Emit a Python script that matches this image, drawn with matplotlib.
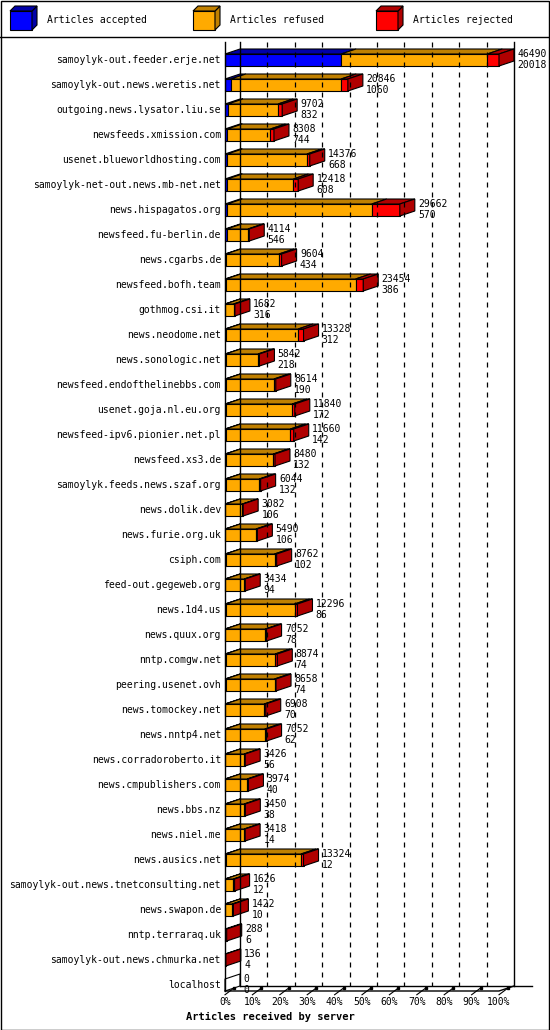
import matplotlib.pyplot as plt
from matplotlib.patches import Polygon, Rectangle
import numpy as np

servers = ["samoylyk-out.feeder.erje.net", "samoylyk-out.news.weretis.net", "outgoing.news.lysator.liu.se",
           "newsfeeds.xmission.com", "usenet.blueworldhosting.com", "samoylyk-net-out.news.mb-net.net",
           "news.hispagatos.org", "newsfeed.fu-berlin.de", "news.cgarbs.de", "newsfeed.bofh.team",
           "gothmog.csi.it", "news.neodome.net", "news.sonologic.net", "newsfeed.endofthelinebbs.com",
           "usenet.goja.nl.eu.org", "newsfeed-ipv6.pionier.net.pl", "newsfeed.xs3.de",
           "samoylyk.feeds.news.szaf.org", "news.dolik.dev", "news.furie.org.uk", "csiph.com",
           "feed-out.gegeweb.org", "news.1d4.us", "news.quux.org", "nntp.comgw.net", "peering.usenet.ovh",
           "news.tomockey.net", "news.nntp4.net", "news.corradoroberto.it", "news.cmpublishers.com",
           "news.bbs.nz", "news.niel.me", "news.ausics.net", "samoylyk-out.news.tnetconsulting.net",
           "news.swapon.de", "nntp.terraraq.uk", "samoylyk-out.news.chmurka.net", "localhost"]
totals = [46490, 20846, 9702, 8308, 14376, 12418, 29662, 4114, 9604, 23454, 1682, 13328, 5842, 8614,
          11840, 11660, 8480, 6044, 3082, 5490, 8762, 3434, 12296, 7052, 8874, 8658, 6908, 7052, 3426,
          3974, 3450, 3418, 13324, 1626, 1422, 288, 136, 0]
second = [20018, 1060, 832, 744, 668, 608, 570, 546, 434, 386, 316, 312, 218, 190, 172, 142, 132, 132,
          106, 106, 102, 94, 86, 78, 74, 74, 70, 62, 56, 40, 38, 14, 12, 12, 10, 6, 4, 0]
accepted = [19700, 1000, 500, 400, 400, 400, 400, 300, 150, 150, 50, 100, 100, 100, 100, 100, 100, 100,
            50, 50, 100, 50, 100, 50, 100, 100, 50, 50, 50, 50, 50, 50, 100, 30, 30, 0, 0, 0]
rejected = [1990, 1146, 702, 608, 476, 818, 4762, 214, 454, 1304, 232, 928, 242, 314, 440, 560, 280, 244,
            132, 240, 362, 184, 496, 202, 374, 258, 258, 302, 176, 224, 200, 168, 424, 196, 192, 288, 136, 0]
refused = [t - a - r for t, a, r in zip(totals, accepted, rejected)]

fig = plt.figure(figsize=(5.5, 10.3), dpi=100)
W, H = 550, 1030
mono = "DejaVu Sans Mono"

# outer frame and legend
fig.patches.append(Rectangle((0.5 / W, 0.5 / H), 548.5 / W, 1028.5 / H, transform=fig.transFigure,
                             fill=False, ec="black", lw=1))
fig.add_artist(plt.Line2D([0, 1], [1 - 37 / H, 1 - 37 / H], color="black", lw=1))
legend = [("Articles accepted", "#0000ff", "#0000a8", 10), ("Articles refused", "#ffaa00", "#c08000", 193),
          ("Articles rejected", "#ff0000", "#b00000", 376)]
for name, c, dark, x0 in legend:
    x, y, w, h, d = x0, 11, 22, 19, 5
    pts_front = [(x, y), (x + w, y), (x + w, y + h), (x, y + h)]
    pts_side = [(x + w, y), (x + w + d, y - d), (x + w + d, y + h - d), (x + w, y + h)]
    pts_top = [(x, y), (x + d, y - d), (x + w + d, y - d), (x + w, y)]
    for pts, col in [(pts_front, c), (pts_side, dark), (pts_top, dark)]:
        fig.patches.append(Polygon([(px / W, 1 - py / H) for px, py in pts], closed=True, fc=col, ec="black",
                                   lw=0.8, transform=fig.transFigure))
    fig.text((x + w + d + 10) / W, 1 - 20 / H, name, fontsize=7, family=mono, va="center")

# plot axes: x in percent, y in rows
left, right, top_px, floor_px = 225, 499, 42, 991
ax = fig.add_axes([left / W, 1 - floor_px / H, (right - left) / W, (floor_px - top_px) / H])
row0, rowstep = 60, 25
ax.set_ylim((floor_px - row0) / rowstep, (top_px - row0) / rowstep)
ax.set_xlim(0, 100)
ax.axis("off")
ylo, yhi = ax.get_ylim()
dx, dy = 15 / 274 * 100, 5 / rowstep
bh = 0.48

# back walls and grid
ax.plot([dx, dx], [yhi, ylo - dy], color="black", lw=1, clip_on=False)
ax.plot([100 + dx, 100 + dx], [yhi, ylo - dy], color="black", lw=1, clip_on=False)
for p in range(10, 100, 10):
    ax.plot([p + dx, p + dx], [yhi, ylo - dy], color="black", lw=0.9, ls=(0, (4, 4)), clip_on=False)
ax.plot([0, 0], [yhi, ylo], color="black", lw=1, clip_on=False)
ax.plot([0, 100, 100 + dx], [ylo, ylo, ylo - dy], color="black", lw=1, clip_on=False)
ax.plot([dx, 112], [ylo - dy, ylo - dy], color="black", lw=1, clip_on=False)
for p in range(0, 101, 10):
    ax.plot([p, p + dx * 0.6], [ylo + 0.15, ylo - dy * 0.6], color="black", lw=0.8, clip_on=False)
    ax.plot([p + dx * 0.6], [ylo - dy * 0.6], marker="s", ms=2, color="black", clip_on=False)
    ax.text(p, ylo + 0.45, f"{p}%", fontsize=7, family=mono, ha="center", va="center")
fig.text(270 / W, 1 - 1017 / H, "Articles received by server", fontsize=7.5, family=mono,
         weight="bold", ha="center", va="center")

colors = [("#0000ff", "#0000a8"), ("#ffaa00", "#c08000"), ("#ff0000", "#b00000")]
mx = max(totals)
for i, name in enumerate(servers):
    ax.text(-1.5, i, name, fontsize=7, family=mono, ha="right", va="center")
    segs = [accepted[i], refused[i], rejected[i]]
    x = 0.0
    last = None
    for v, (c, dark) in zip(segs, colors):
        if v <= 0:
            continue
        w = v / mx * 100
        y0, y1 = i - bh / 2, i + bh / 2
        ax.add_patch(Polygon([(x, y0), (x + w, y0), (x + w, y1), (x, y1)], fc=c, ec="black", lw=0.8,
                             clip_on=False))
        ax.add_patch(Polygon([(x, y0), (x + dx, y0 - dy), (x + w + dx, y0 - dy), (x + w, y0)], fc=dark,
                             ec="black", lw=0.8, clip_on=False))
        x += w
        last = dark
    y0, y1 = i - bh / 2, i + bh / 2
    if last is None:
        ax.add_patch(Polygon([(0, y1), (dx, y1 - dy), (dx, y0 - dy), (0, y0)], fc="white", ec="black",
                             lw=0.8, clip_on=False))
    else:
        ax.add_patch(Polygon([(x, y0), (x + dx, y0 - dy), (x + dx, y1 - dy), (x, y1)], fc=last,
                             ec="black", lw=0.8, clip_on=False))
    tx = x + dx + 1.2
    ax.text(tx, i - 0.22, str(totals[i]), fontsize=7, family=mono, ha="left", va="center")
    ax.text(tx, i + 0.22, str(second[i]), fontsize=7, family=mono, ha="left", va="center")

fig.savefig("out.png", dpi=100)
